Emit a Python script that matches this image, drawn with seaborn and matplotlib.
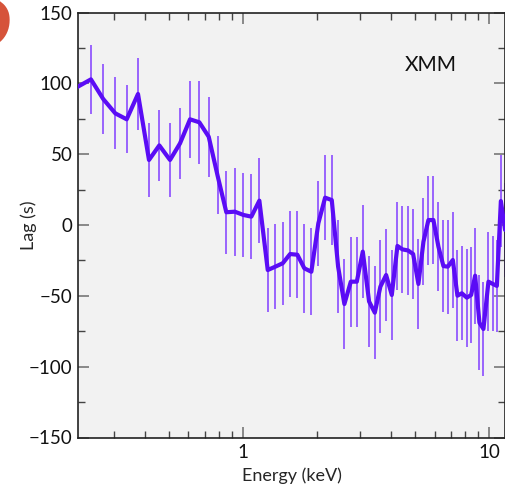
import numpy as np
import pandas as pd
import matplotlib
matplotlib.use("Agg")
import matplotlib.pyplot as plt
import seaborn as sns
from matplotlib.ticker import FixedLocator, NullFormatter, MultipleLocator

energy = [0.21, 0.241, 0.2704, 0.3027, 0.3367, 0.3743, 0.4148, 0.4568, 0.5050, 0.5545,
          0.6089, 0.6643, 0.7254, 0.7877, 0.8552, 0.9262, 1.003, 1.081, 1.165, 1.260,
          1.353, 1.450, 1.553, 1.663, 1.775, 1.895, 2.023, 2.155, 2.294, 2.434,
          2.581, 2.741, 2.899, 3.066, 3.252, 3.431, 3.615, 3.814, 4.022, 4.240,
          4.442, 4.685, 4.911, 5.160, 5.408, 5.666, 5.937, 6.222, 6.520, 6.794,
          7.119, 7.433, 7.745, 8.116, 8.450, 8.773, 9.133, 9.481, 9.935, 10.35,
          10.75, 11.16, 11.61]
lag = [97.0, 102.8, 88.9, 78.8, 74.6, 92.5, 45.9, 56.2, 45.9, 57.6,
       74.6, 72.5, 62.3, 35.0, 9.0, 9.4, 7.1, 5.9, 17.2, -31.8,
       -29.4, -27.0, -20.5, -21.0, -30.6, -33.0, 1.2, 19.3, 17.6, -29.4,
       -55.8, -40.0, -40.0, -18.8, -54.0, -61.9, -43.5, -35.3, -49.4, -14.8,
       -17.2, -18.0, -20.5, -41.6, -11.8, 3.5, 3.5, -15.3, -29.0, -29.4,
       -24.7, -49.9, -48.2, -51.3, -49.4, -35.8, -69.0, -73.4, -40.0, -41.6,
       -43.0, 16.9, -3.5]
lag_err = [25.0, 24.4, 24.7, 25.5, 24.0, 25.3, 25.8, 25.2, 25.9, 25.0,
           27.0, 29.2, 28.2, 27.5, 29.3, 31.0, 29.4, 30.0, 30.2, 29.8,
           30.0, 29.2, 30.2, 30.6, 31.5, 30.6, 30.2, 30.0, 31.8, 32.9,
           32.0, 31.8, 31.8, 32.7, 32.0, 32.9, 32.9, 32.4, 31.5, 31.2,
           30.8, 31.7, 31.5, 31.8, 30.8, 31.4, 31.2, 31.5, 32.5, 33.2,
           33.7, 32.1, 33.2, 34.7, 34.1, 33.9, 33.5, 32.9, 35.0, 33.5,
           32.5, 32.7, 33.0]

x_major = [1, 10]
x_labels = ["1", "10"]
y_major = [-150, -100, -50, 0, 50, 100, 150]
y_labels = ["\u2212150", "\u2212100", "\u221250", "0", "50", "100", "150"]

df = pd.DataFrame({"Energy": energy, "Lag": lag, "err": lag_err})

sns.set_theme(style="ticks")
plt.rcParams["font.family"] = ["Lato", "DejaVu Sans"]

fig = plt.figure(figsize=(5.06, 4.87), dpi=100)
ax = fig.add_axes([78 / 506, 1 - 437.5 / 487, (505 - 78) / 506, (437.5 - 12.5) / 487])
ax.set_facecolor("#f2f2f2")

ax.errorbar(df["Energy"], df["Lag"], yerr=df["err"], fmt="none",
            ecolor="#8a4cff", elinewidth=1.2, capsize=0, zorder=2)
sns.lineplot(data=df, x="Energy", y="Lag", ax=ax, color="#5a0cf5", lw=3.0,
             sort=False, estimator=None, zorder=3)

ax.set_xscale("log")
ax.set_xlim(0.2135, 11.6)
ax.set_ylim(-150, 150)

ax.xaxis.set_major_locator(FixedLocator(x_major))
ax.set_xticklabels(x_labels)
ax.xaxis.set_minor_locator(FixedLocator([0.3, 0.4, 0.5, 0.6, 0.7, 0.8, 0.9,
                                         2, 3, 4, 5, 6, 7, 8, 9]))
ax.xaxis.set_minor_formatter(NullFormatter())
ax.set_yticks(y_major)
ax.set_yticklabels(y_labels)
ax.yaxis.set_minor_locator(MultipleLocator(25))

ax.tick_params(which="both", direction="in", top=True, right=True,
               labelsize=13.5, colors="#111111")
ax.tick_params(axis="x", which="both", pad=5)
ax.tick_params(axis="y", which="both", pad=4)
ax.tick_params(which="major", length=8, width=1.2, color="#777777")
ax.tick_params(which="minor", length=5, width=1.0, color="#444444")
for s in ax.spines.values():
    s.set_color("#222222")
    s.set_linewidth(1.2)

ax.set_xlabel("Energy (keV)", fontsize=13, labelpad=4)
ax.set_ylabel("Lag (s)", fontsize=13)
ax.yaxis.set_label_coords(-0.097, 0.5)

ax.text(0.827, 0.876, "XMM", transform=ax.transAxes, fontsize=15,
        ha="center", va="center", color="#111111")

fig.text(13 / 506, 1 - 48 / 487, "S", fontsize=88, fontweight="bold",
         color="#d6533a", ha="right", va="baseline")

fig.savefig("out.png", dpi=100, facecolor="white")
